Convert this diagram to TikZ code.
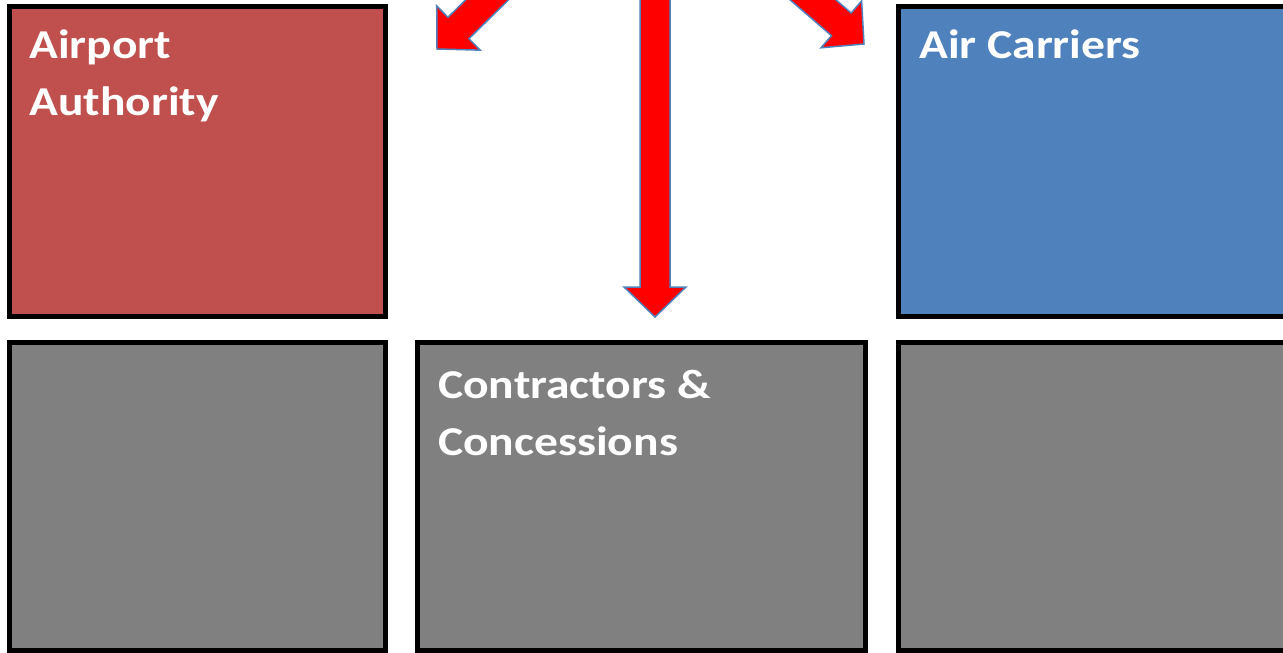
\documentclass[tikz,border=0pt]{standalone}
\usepackage{fontspec}
\setmainfont{Carlito}
\newfontfamily\lblfont[FakeStretch=1.16]{Carlito}
\usetikzlibrary{calc}
\definecolor{boxred}{HTML}{C0504D}
\definecolor{boxblue}{HTML}{4F81BD}
\definecolor{boxgray}{HTML}{808080}
\definecolor{arrowred}{HTML}{FF0000}
\definecolor{arrowline}{HTML}{4F81BD}
\newcommand\blockarr[2]{%
  \coordinate (hb) at ($(#2)!30pt!(#1)$);
  \draw[blockarrow] ($(#1)!15pt!90:(#2)$) -- ($(hb)!15pt!90:(#2)$) -- ($(hb)!31pt!90:(#2)$) -- (#2)
    -- ($(hb)!31pt!-90:(#2)$) -- ($(hb)!15pt!-90:(#2)$) -- ($(#1)!15pt!-90:(#2)$) -- cycle;
}
\begin{document}
\begin{tikzpicture}[x=1pt,y=-1pt,
  box/.style={draw=black,line width=5pt,rectangle,inner sep=0pt,outer sep=0pt,anchor=north west},
  lbl/.style={text=white,font=\lblfont\fontsize{41}{57}\selectfont\bfseries,align=left,anchor=base west,inner sep=0pt},
  blockarrow/.style={fill=arrowred,draw=arrowline,line width=1.5pt,line join=miter}]
\useasboundingbox (0,0) rectangle (1283,653);
\clip (0,0) rectangle (1283,653);
\node[box,fill=boxred,minimum width=376pt,minimum height=310pt] (aa) at (9.5,6) {};
\node[box,fill=boxblue,minimum width=400pt,minimum height=310pt] (ac) at (898,6) {};
\node[box,fill=boxgray,minimum width=376pt,minimum height=308pt] (bl) at (9.5,342) {};
\node[box,fill=boxgray,minimum width=448pt,minimum height=308pt] (cc) at (417.5,342) {};
\node[box,fill=boxgray,minimum width=400pt,minimum height=308pt] (br) at (898,342) {};
\node[lbl] (aat) at (29,115) {Airport\\Authority};
\node[lbl] (act) at (919,58) {Air Carriers};
\node[lbl] (cct) at (438,455) {Contractors \&\\Concessions};
\coordinate (srcD) at (640,-150);
\coordinate (srcV) at (655,-150);
\coordinate (tipL) at (437,49);
\coordinate (tipR) at (864,44);
\coordinate (tipV) at (655,317);
\blockarr{srcD}{tipL}
\blockarr{srcD}{tipR}
\blockarr{srcV}{tipV}
\end{tikzpicture}
\end{document}
